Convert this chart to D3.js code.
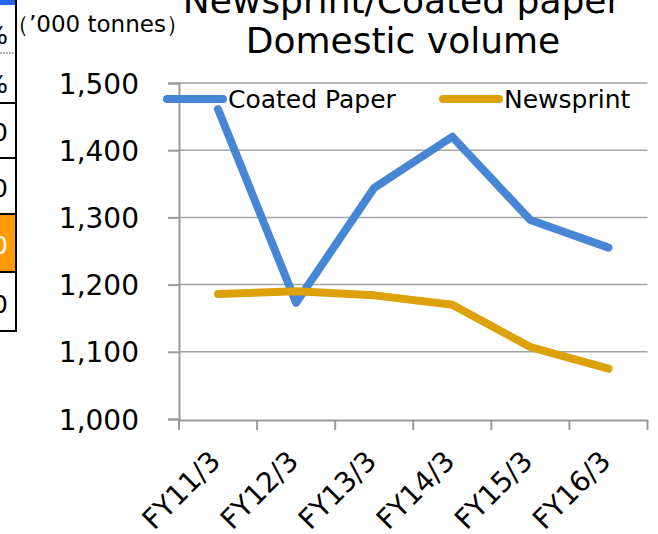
<!DOCTYPE html>
<html>
<head>
<meta charset="utf-8">
<script src="https://cdn.jsdelivr.net/npm/d3@7"></script>
<style>
  body { margin: 0; background: #fff; }
  svg { display: block; font-family: "DejaVu Sans", Verdana, sans-serif; }
</style>
</head>
<body>
<svg id="chart" width="658" height="534"></svg>
<script>
// data
const categories = ["FY11/3", "FY12/3", "FY13/3", "FY14/3", "FY15/3", "FY16/3"];
const coatedPaper = [1461, 1173, 1344, 1420, 1296, 1255];
const newsprint = [1186, 1190, 1184, 1170, 1107, 1075];
const yTicks = [1000, 1100, 1200, 1300, 1400, 1500];
const seriesNames = ["Coated Paper", "Newsprint"];
const seriesColors = ["#4785d5", "#dda10b"];

let chart = d3.select("#chart");

// cut-off table on the left edge (part of the picture, not the chart)
let rowLines = [53, 103, 158, 214, 272, 331];
chart.append("rect").attr("x", 0).attr("y", 0).attr("width", 16).attr("height", 5).attr("fill", "#2a63f0");
chart.append("rect").attr("x", 0).attr("y", 214).attr("width", 16).attr("height", 58).attr("fill", "#ff9a00");
rowLines.forEach(function (y, i) {
    chart.append("line")
        .attr("x1", 0).attr("x2", 17).attr("y1", y).attr("y2", y)
        .attr("stroke", i == 0 ? "#999" : "#000")
        .attr("stroke-width", i == 0 ? 1.5 : 2)
        .attr("stroke-dasharray", i == 0 ? "2,1" : null);
});
chart.append("line").attr("x1", 16).attr("x2", 16).attr("y1", 0).attr("y2", 332)
    .attr("stroke", "#000").attr("stroke-width", 2);
let cellText = [["%", 44], ["%", 93], ["0", 141], ["0", 197], ["0", 254], ["0", 313]];
cellText.forEach(function (c, i) {
    chart.append("text")
        .text(c[0])
        .attr("x", 8).attr("y", c[1])
        .attr("text-anchor", "end")
        .style("font-size", "25px")
        .attr("fill", i == 4 ? "#fff" : "#000");
});

// scales
let x = d3.scaleBand()
    .domain(categories)
    .range([179, 647.5]);

let y = d3.scaleLinear()
    .domain([1000, 1500])
    .range([419, 83]);

// gridlines
chart.append("g")
    .selectAll("line")
    .data(yTicks.slice(1))
    .enter()
    .append("line")
    .attr("x1", 179).attr("x2", 647.5)
    .attr("y1", function (d) { return y(d); })
    .attr("y2", function (d) { return y(d); })
    .attr("stroke", "#a3a3a3")
    .attr("stroke-width", 1.5);

// y axis
let yAxis = d3.axisLeft(y)
    .tickValues(yTicks)
    .tickFormat(d3.format(","))
    .tickSize(11)
    .tickPadding(29);
let yAxisGroup = chart.append("g")
    .attr("transform", "translate(179,0)")
    .call(yAxis);
yAxisGroup.select(".domain").attr("stroke", "#9a9a9a").attr("stroke-width", 2);
yAxisGroup.selectAll(".tick line").attr("stroke", "#9a9a9a").attr("stroke-width", 2);
yAxisGroup.selectAll(".tick text")
    .style("font-size", "28px")
    .style("font-family", "DejaVu Sans, sans-serif")
    .attr("fill", "#000")
    .attr("dy", "0.36em");

// x axis (ticks on band edges)
let xAxis = d3.axisBottom(x)
    .tickSize(0)
    .tickFormat("");
let xAxisGroup = chart.append("g")
    .attr("transform", "translate(0,420)")
    .call(xAxis);
xAxisGroup.select(".domain").attr("stroke", "#9a9a9a").attr("stroke-width", 2);
let edges = categories.map(function (c) { return x(c); }).concat([x.range()[1]]);
xAxisGroup.selectAll(".edge")
    .data(edges)
    .enter()
    .append("line")
    .attr("x1", function (d) { return d; })
    .attr("x2", function (d) { return d; })
    .attr("y1", 0).attr("y2", 10)
    .attr("stroke", "#9a9a9a").attr("stroke-width", 2);

// x labels rotated
chart.append("g")
    .selectAll("text")
    .data(categories)
    .enter()
    .append("text")
    .text(function (d) { return d; })
    .attr("text-anchor", "end")
    .style("font-size", "28px")
    .attr("transform", function (d) {
        let cx = x(d) + x.bandwidth() / 2 + 4;
        return "translate(" + cx + ",463) rotate(-45)";
    });

// lines
let line = d3.line()
    .x(function (d, i) { return x(categories[i]) + x.bandwidth() / 2; })
    .y(function (d) { return y(d); });

[coatedPaper, newsprint].forEach(function (s, k) {
    chart.append("path")
        .datum(s)
        .attr("d", line)
        .attr("fill", "none")
        .attr("stroke", seriesColors[k])
        .attr("stroke-width", 8)
        .attr("stroke-linejoin", "round")
        .attr("stroke-linecap", "round");
});

// legend
let legendX = [167, 443];
seriesNames.forEach(function (name, k) {
    chart.append("line")
        .attr("x1", legendX[k]).attr("x2", legendX[k] + 56)
        .attr("y1", 99).attr("y2", 99)
        .attr("stroke", seriesColors[k])
        .attr("stroke-width", 8)
        .attr("stroke-linecap", "round");
    chart.append("text")
        .text(name)
        .attr("x", legendX[k] + 61)
        .attr("y", 108)
        .style("font-size", "25px");
});

// title
chart.append("text")
    .text("Newsprint/Coated paper")
    .attr("x", 402).attr("y", 13)
    .attr("text-anchor", "middle")
    .style("font-size", "36px");
chart.append("text")
    .text("Domestic volume")
    .attr("x", 403).attr("y", 53)
    .attr("text-anchor", "middle")
    .style("font-size", "36px");

// unit label
chart.append("text")
    .text("（’000 tonnes）")
    .attr("x", 6).attr("y", 32)
    .style("font-size", "23px");
</script>
</body>
</html>
